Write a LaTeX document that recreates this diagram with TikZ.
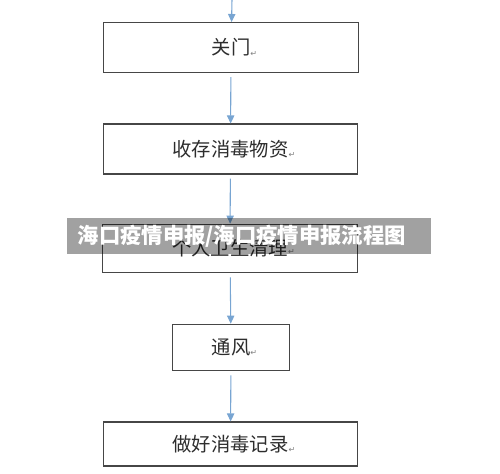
\documentclass[tikz,border=0pt]{standalone}
\usepackage{fontspec}
\usepackage{tikz}
\usetikzlibrary{arrows.meta,positioning}
\newfontfamily\cjk{Noto Sans CJK SC}
\newfontfamily\symfont{DejaVu Sans}
\definecolor{flowBlue}{RGB}{120, 165, 210}
\definecolor{boxGray}{RGB}{70, 70, 70}
\definecolor{textGray}{RGB}{45, 45, 45}
\newcommand{\pmark}{\rlap{\symfont\fontsize{6}{6}\selectfont\color{gray}\raisebox{-0.3ex}{↵}}}

\begin{document}
\begin{tikzpicture}[
        x=0.75pt, y=-0.75pt,
        stepbox/.style={rectangle, draw=boxGray, line width=0.8pt, fill=white, inner sep=0pt, minimum width=191pt, minimum height=37.5pt, align=center, font=\cjk\fontsize{14.5}{16}\selectfont, text=textGray},
        banner/.style={rectangle, fill=black, fill opacity=0.37, text opacity=1, text=white, inner xsep=8pt, inner ysep=0pt, minimum height=27pt, text width=257pt, align=left, font=\cjk\bfseries\fontsize{16}{18}\selectfont},
        arrow/.style={-{Triangle[width=5.5pt,length=6pt]}, line width=0.8pt, flowBlue}
    ]
        \useasboundingbox (0,0) rectangle (500,474);

        % Steps
        \coordinate (start) at (232,0);
        \node[stepbox] (close) at (231,47.5) {关门\pmark};
        \node[stepbox] (store) at (230.5,149) {收存消毒物资\pmark};
        \node[stepbox, minimum height=36.5pt] (clean) at (230,248.5) {\raisebox{-2pt}{个人卫生清理}\pmark};
        \node[stepbox, minimum width=88pt, minimum height=35pt] (air) at (231,347.5) {通风\pmark};
        \node[stepbox, minimum height=33pt] (record) at (230.5,444) {做好消毒记录\pmark};

        % Flow arrows
        \draw[arrow] (start) -- (close);
        \draw[arrow, shorten <=3pt] (close) -- (store);
        \draw[arrow, shorten <=3pt] (store) -- (clean);
        \draw[arrow, shorten <=3pt] (clean) -- (air);
        \draw[arrow, shorten <=3pt] (air) -- (record);

        % Overlay banner
        \node[banner] (title) at (249,236) {海口疫情申报/海口疫情申报流程图};
    \end{tikzpicture}
\end{document}
